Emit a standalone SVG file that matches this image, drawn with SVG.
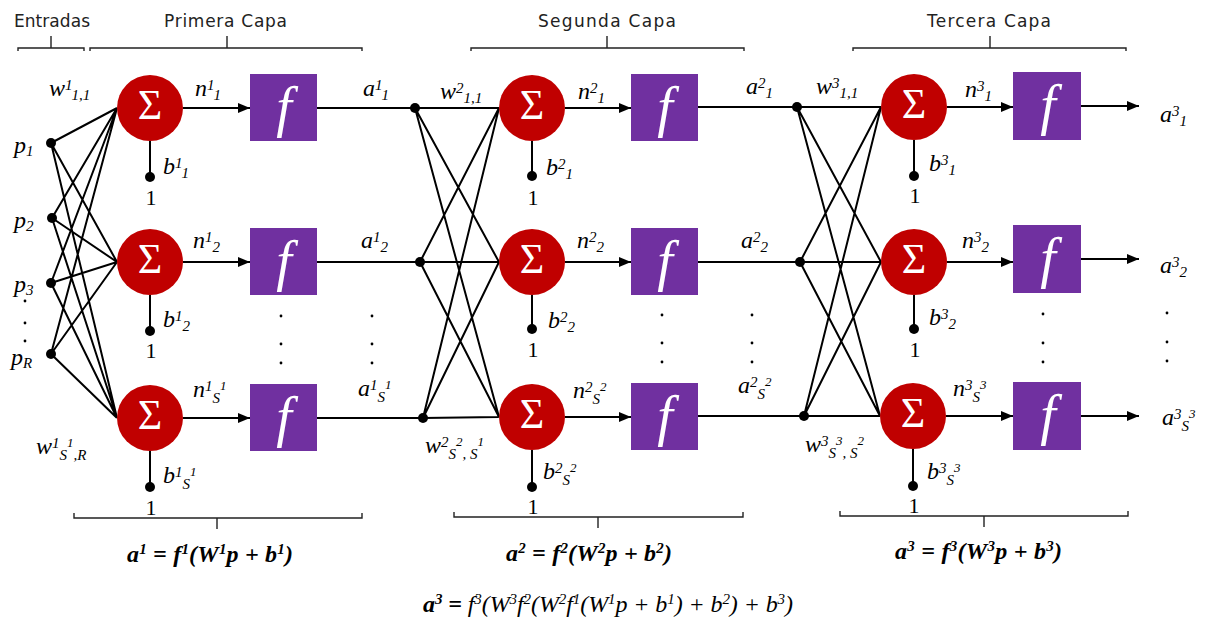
<svg xmlns="http://www.w3.org/2000/svg" width="1207" height="628" viewBox="0 0 1207 628">
<style>
.sum{fill:#C00000}
.fbox{fill:#7030A0}
.sig{font-family:"Liberation Serif","Times New Roman",serif;font-size:42px;fill:#fff;text-anchor:middle}
.ff{font-family:"Liberation Serif",serif;font-style:italic;font-size:56px;fill:#fff;text-anchor:middle}
.ln{stroke:#000;stroke-width:2;fill:none}
.br{stroke:#222;stroke-width:1.4;fill:none}
.lbl{font-family:"Liberation Serif",serif;font-style:italic;font-size:24px;fill:#000}
.s{font-size:15px}
.ss{font-size:13px}
.one{font-family:"Liberation Serif",serif;font-size:22px;fill:#000;text-anchor:middle}
.hd{font-family:"DejaVu Sans",sans-serif;font-size:17px;fill:#222}
.eq{font-family:"Liberation Serif",serif;font-style:italic;font-weight:bold;font-size:24px;fill:#000}
.eqr{font-family:"Liberation Serif",serif;font-style:italic;font-size:24px;fill:#000}
.sup{font-size:15px}
.dot{fill:#000}
</style>
<defs>
<marker id="ah" markerWidth="12" markerHeight="10" refX="12" refY="5" orient="auto" markerUnits="userSpaceOnUse">
<path d="M0,0 L12,5 L0,10 z" fill="#000"/>
</marker>
</defs>

<g id="headers">
<text class="hd" x="14" y="27" textLength="76">Entradas</text>
<text class="hd" x="164" y="27" textLength="123">Primera Capa</text>
<text class="hd" x="538" y="27" textLength="138">Segunda Capa</text>
<text class="hd" x="927" y="27" textLength="124">Tercera Capa</text>
<path class="br" d="M18,51 V48 H84 V51 M51,48 V36"/>
<path class="br" d="M90,51 V48 H362 V51 M227,48 V36"/>
<path class="br" d="M471,51 V48 H744 V51 M607,48 V36"/>
<path class="br" d="M853,51 V48 H1126 V51 M990,48 V36"/>
<path class="br" d="M74,513 V518 H362 V513 M217,518 V529"/>
<path class="br" d="M454,512 V517 H743 V512 M598,517 V528"/>
<path class="br" d="M840,511 V516 H1128 V511 M984,516 V527"/>
</g>

<g id="connectors">
<path class="ln" d="M51,143 L117,108 M51,143 L117,262 M51,143 L117,418
M52,218 L117,108 M52,218 L117,262 M52,218 L117,418
M51,283 L117,108 M51,283 L117,262 M51,283 L117,418
M51,354 L117,108 M51,354 L117,262 M51,354 L117,418"/>
<line class="ln" x1="183" y1="108" x2="250" y2="108" marker-end="url(#ah)"/>
<line class="ln" x1="183" y1="262" x2="250" y2="262" marker-end="url(#ah)"/>
<line class="ln" x1="183" y1="418" x2="250" y2="418" marker-end="url(#ah)"/>
<path class="ln" d="M150,141 V177 M150,295 V331 M150,451 V487"/>
<path class="ln" d="M532,141 V176 M532,295 V329 M532,450 V487"/>
<path class="ln" d="M914,140 V176 M914,295 V329 M913,449 V486"/>
<path class="ln" d="M317,108 H415 M317,262 H420 M317,418 H423"/>
<path class="ln" d="M415,108 L499,108 M415,108 L499,262 M415,108 L499,417
M420,262 L499,108 M420,262 L499,262 M420,262 L499,417
M423,418 L499,108 M423,418 L499,262 M423,418 L499,417"/>
<line class="ln" x1="565" y1="108" x2="631" y2="108" marker-end="url(#ah)"/>
<line class="ln" x1="565" y1="262" x2="631" y2="262" marker-end="url(#ah)"/>
<line class="ln" x1="565" y1="417" x2="631" y2="417" marker-end="url(#ah)"/>
<path class="ln" d="M698,107 H797 M698,262 H800 M698,416 H804"/>
<path class="ln" d="M797,107 L881,107 M797,107 L881,262 M797,107 L880,416
M800,262 L881,107 M800,262 L881,262 M800,262 L880,416
M804,416 L881,107 M804,416 L881,262 M804,416 L880,416"/>
<line class="ln" x1="947" y1="107" x2="1013" y2="107" marker-end="url(#ah)"/>
<line class="ln" x1="947" y1="262" x2="1013" y2="262" marker-end="url(#ah)"/>
<line class="ln" x1="946" y1="416" x2="1013" y2="416" marker-end="url(#ah)"/>
<line class="ln" x1="1081" y1="106" x2="1139" y2="106" marker-end="url(#ah)"/>
<line class="ln" x1="1081" y1="259" x2="1139" y2="259" marker-end="url(#ah)"/>
<line class="ln" x1="1081" y1="416" x2="1139" y2="416" marker-end="url(#ah)"/>
</g>

<g id="inputs">
<circle class="dot" cx="51" cy="143" r="5"/>
<circle class="dot" cx="52" cy="218" r="5"/>
<circle class="dot" cx="51" cy="283" r="5"/>
<circle class="dot" cx="51" cy="354" r="5"/>
<text class="lbl" x="14" y="153">p<tspan class="s" dy="3">1</tspan></text>
<text class="lbl" x="14" y="228">p<tspan class="s" dy="3">2</tspan></text>
<text class="lbl" x="14" y="292">p<tspan class="s" dy="3">3</tspan></text>
<text class="lbl" x="11" y="365">p<tspan class="s" dy="3">R</tspan></text>
<circle class="dot" cx="25" cy="301" r="1.4"/>
<circle class="dot" cx="25" cy="323" r="1.4"/>
<circle class="dot" cx="25" cy="341" r="1.4"/>
</g>

<g id="junctions">
<circle class="dot" cx="415" cy="108" r="5"/>
<circle class="dot" cx="420" cy="262" r="5"/>
<circle class="dot" cx="423" cy="418" r="5"/>
<circle class="dot" cx="797" cy="107" r="5"/>
<circle class="dot" cx="800" cy="262" r="5"/>
<circle class="dot" cx="804" cy="416" r="5"/>
</g>

<g id="layer1-neuron1">
<circle class="sum" cx="150" cy="108" r="33"/>
<text class="sig" x="150" y="119">Σ</text>
<circle class="dot" cx="150" cy="177" r="5"/>
<text class="one" x="151" y="205">1</text>
<text class="lbl" x="163" y="174">b<tspan class="s" dy="-6">1</tspan><tspan class="s" dy="10">1</tspan></text>
</g>
<g id="layer1-neuron2">
<circle class="sum" cx="150" cy="262" r="33"/>
<text class="sig" x="150" y="273">Σ</text>
<circle class="dot" cx="150" cy="331" r="5"/>
<text class="one" x="151" y="358">1</text>
<text class="lbl" x="163" y="327">b<tspan class="s" dy="-6">1</tspan><tspan class="s" dy="10">2</tspan></text>
</g>
<g id="layer1-neuron3">
<circle class="sum" cx="150" cy="418" r="33"/>
<text class="sig" x="150" y="429">Σ</text>
<circle class="dot" cx="150" cy="487" r="5"/>
<text class="one" x="151" y="515">1</text>
<text class="lbl" x="163" y="483">b<tspan class="s" dy="-6">1</tspan><tspan class="s" dy="12">S</tspan><tspan class="ss" dy="-13">1</tspan></text>
</g>
<g id="layer1-f1"><rect class="fbox" x="250" y="74" width="67" height="67"/><text class="ff" x="284" y="126">f</text></g>
<g id="layer1-f2"><rect class="fbox" x="250" y="228" width="67" height="67"/><text class="ff" x="284" y="280">f</text></g>
<g id="layer1-f3"><rect class="fbox" x="250" y="384" width="67" height="67"/><text class="ff" x="284" y="436">f</text></g>

<g id="layer2-neuron1">
<circle class="sum" cx="532" cy="108" r="33"/>
<text class="sig" x="532" y="119">Σ</text>
<circle class="dot" cx="532" cy="176" r="5"/>
<text class="one" x="533" y="205">1</text>
<text class="lbl" x="546" y="175">b<tspan class="s" dy="-6">2</tspan><tspan class="s" dy="10">1</tspan></text>
</g>
<g id="layer2-neuron2">
<circle class="sum" cx="532" cy="262" r="33"/>
<text class="sig" x="532" y="273">Σ</text>
<circle class="dot" cx="532" cy="329" r="5"/>
<text class="one" x="533" y="357">1</text>
<text class="lbl" x="548" y="328">b<tspan class="s" dy="-6">2</tspan><tspan class="s" dy="10">2</tspan></text>
</g>
<g id="layer2-neuron3">
<circle class="sum" cx="532" cy="417" r="33"/>
<text class="sig" x="532" y="428">Σ</text>
<circle class="dot" cx="532" cy="487" r="5"/>
<text class="one" x="533" y="514">1</text>
<text class="lbl" x="543" y="479">b<tspan class="s" dy="-6">2</tspan><tspan class="s" dy="12">S</tspan><tspan class="ss" dy="-13">2</tspan></text>
</g>
<g id="layer2-f1"><rect class="fbox" x="631" y="74" width="67" height="67"/><text class="ff" x="665" y="126">f</text></g>
<g id="layer2-f2"><rect class="fbox" x="631" y="228" width="67" height="67"/><text class="ff" x="665" y="280">f</text></g>
<g id="layer2-f3"><rect class="fbox" x="631" y="383" width="67" height="67"/><text class="ff" x="665" y="435">f</text></g>

<g id="layer3-neuron1">
<circle class="sum" cx="914" cy="107" r="33"/>
<text class="sig" x="914" y="118">Σ</text>
<circle class="dot" cx="914" cy="176" r="5"/>
<text class="one" x="915" y="203">1</text>
<text class="lbl" x="929" y="171">b<tspan class="s" dy="-6">3</tspan><tspan class="s" dy="10">1</tspan></text>
</g>
<g id="layer3-neuron2">
<circle class="sum" cx="914" cy="262" r="33"/>
<text class="sig" x="914" y="273">Σ</text>
<circle class="dot" cx="914" cy="329" r="5"/>
<text class="one" x="915" y="357">1</text>
<text class="lbl" x="929" y="325">b<tspan class="s" dy="-6">3</tspan><tspan class="s" dy="10">2</tspan></text>
</g>
<g id="layer3-neuron3">
<circle class="sum" cx="913" cy="416" r="33"/>
<text class="sig" x="913" y="427">Σ</text>
<circle class="dot" cx="913" cy="486" r="5"/>
<text class="one" x="914" y="513">1</text>
<text class="lbl" x="927" y="479">b<tspan class="s" dy="-6">3</tspan><tspan class="s" dy="12">S</tspan><tspan class="ss" dy="-13">3</tspan></text>
</g>
<g id="layer3-f1"><rect class="fbox" x="1013" y="72" width="68" height="68"/><text class="ff" x="1048" y="124">f</text></g>
<g id="layer3-f2"><rect class="fbox" x="1013" y="225" width="68" height="68"/><text class="ff" x="1048" y="277">f</text></g>
<g id="layer3-f3"><rect class="fbox" x="1013" y="382" width="68" height="68"/><text class="ff" x="1048" y="434">f</text></g>

<g id="edge-labels">
<text class="lbl" x="49" y="96">w<tspan class="s" dy="-6">1</tspan><tspan class="s" dy="10">1,1</tspan></text>
<text class="lbl" x="195" y="96">n<tspan class="s" dy="-6">1</tspan><tspan class="s" dy="10">1</tspan></text>
<text class="lbl" x="363" y="96">a<tspan class="s" dy="-6">1</tspan><tspan class="s" dy="10">1</tspan></text>
<text class="lbl" x="193" y="248">n<tspan class="s" dy="-6">1</tspan><tspan class="s" dy="10">2</tspan></text>
<text class="lbl" x="361" y="248">a<tspan class="s" dy="-6">1</tspan><tspan class="s" dy="10">2</tspan></text>
<text class="lbl" x="193" y="397">n<tspan class="s" dy="-6">1</tspan><tspan class="s" dy="12">S</tspan><tspan class="ss" dy="-13">1</tspan></text>
<text class="lbl" x="358" y="396">a<tspan class="s" dy="-6">1</tspan><tspan class="s" dy="12">S</tspan><tspan class="ss" dy="-13">1</tspan></text>
<text class="lbl" x="36" y="454">w<tspan class="s" dy="-6">1</tspan><tspan class="s" dy="12">S</tspan><tspan class="ss" dy="-13">1</tspan><tspan class="s" dy="13">,R</tspan></text>

<text class="lbl" x="440" y="99">w<tspan class="s" dy="-6">2</tspan><tspan class="s" dy="10">1,1</tspan></text>
<text class="lbl" x="578" y="99">n<tspan class="s" dy="-6">2</tspan><tspan class="s" dy="10">1</tspan></text>
<text class="lbl" x="746" y="94">a<tspan class="s" dy="-6">2</tspan><tspan class="s" dy="10">1</tspan></text>
<text class="lbl" x="577" y="248">n<tspan class="s" dy="-6">2</tspan><tspan class="s" dy="10">2</tspan></text>
<text class="lbl" x="741" y="248">a<tspan class="s" dy="-6">2</tspan><tspan class="s" dy="10">2</tspan></text>
<text class="lbl" x="573" y="398">n<tspan class="s" dy="-6">2</tspan><tspan class="s" dy="12">S</tspan><tspan class="ss" dy="-13">2</tspan></text>
<text class="lbl" x="738" y="393">a<tspan class="s" dy="-6">2</tspan><tspan class="s" dy="12">S</tspan><tspan class="ss" dy="-13">2</tspan></text>
<text class="lbl" x="425" y="453">w<tspan class="s" dy="-6">2</tspan><tspan class="s" dy="12">S</tspan><tspan class="ss" dy="-13">2</tspan><tspan class="s" dy="13">, S</tspan><tspan class="ss" dy="-13">1</tspan></text>

<text class="lbl" x="816" y="94">w<tspan class="s" dy="-6">3</tspan><tspan class="s" dy="10">1,1</tspan></text>
<text class="lbl" x="965" y="97">n<tspan class="s" dy="-6">3</tspan><tspan class="s" dy="10">1</tspan></text>
<text class="lbl" x="962" y="248">n<tspan class="s" dy="-6">3</tspan><tspan class="s" dy="10">2</tspan></text>
<text class="lbl" x="953" y="396">n<tspan class="s" dy="-6">3</tspan><tspan class="s" dy="12">S</tspan><tspan class="ss" dy="-13">3</tspan></text>
<text class="lbl" x="805" y="452">w<tspan class="s" dy="-6">3</tspan><tspan class="s" dy="12">S</tspan><tspan class="ss" dy="-13">3</tspan><tspan class="s" dy="13">, S</tspan><tspan class="ss" dy="-13">2</tspan></text>
<text class="lbl" x="1160" y="122">a<tspan class="s" dy="-6">3</tspan><tspan class="s" dy="10">1</tspan></text>
<text class="lbl" x="1160" y="273">a<tspan class="s" dy="-6">3</tspan><tspan class="s" dy="10">2</tspan></text>
<text class="lbl" x="1162" y="425">a<tspan class="s" dy="-6">3</tspan><tspan class="s" dy="12">S</tspan><tspan class="ss" dy="-13">3</tspan></text>
</g>

<g id="ellipses">
<circle class="dot" cx="281" cy="316" r="1.4"/><circle class="dot" cx="281" cy="344" r="1.4"/><circle class="dot" cx="281" cy="363" r="1.4"/>
<circle class="dot" cx="372" cy="316" r="1.4"/><circle class="dot" cx="372" cy="344" r="1.4"/><circle class="dot" cx="372" cy="363" r="1.4"/>
<circle class="dot" cx="662" cy="315" r="1.4"/><circle class="dot" cx="662" cy="343" r="1.4"/><circle class="dot" cx="662" cy="362" r="1.4"/>
<circle class="dot" cx="752" cy="315" r="1.4"/><circle class="dot" cx="752" cy="343" r="1.4"/><circle class="dot" cx="752" cy="362" r="1.4"/>
<circle class="dot" cx="1043" cy="314" r="1.4"/><circle class="dot" cx="1043" cy="343" r="1.4"/><circle class="dot" cx="1043" cy="362" r="1.4"/>
<circle class="dot" cx="1167" cy="313" r="1.4"/><circle class="dot" cx="1167" cy="342" r="1.4"/><circle class="dot" cx="1167" cy="361" r="1.4"/>
</g>

<g id="formulas">
<text class="eq" x="127" y="562" textLength="166">a<tspan class="sup" dy="-8">1</tspan><tspan dy="8"> = f</tspan><tspan class="sup" dy="-8">1</tspan><tspan dy="8">(W</tspan><tspan class="sup" dy="-8">1</tspan><tspan dy="8">p + b</tspan><tspan class="sup" dy="-8">1</tspan><tspan dy="8">)</tspan></text>
<text class="eq" x="506" y="561" textLength="166">a<tspan class="sup" dy="-8">2</tspan><tspan dy="8"> = f</tspan><tspan class="sup" dy="-8">2</tspan><tspan dy="8">(W</tspan><tspan class="sup" dy="-8">2</tspan><tspan dy="8">p + b</tspan><tspan class="sup" dy="-8">2</tspan><tspan dy="8">)</tspan></text>
<text class="eq" x="895" y="559" textLength="167">a<tspan class="sup" dy="-8">3</tspan><tspan dy="8"> = f</tspan><tspan class="sup" dy="-8">3</tspan><tspan dy="8">(W</tspan><tspan class="sup" dy="-8">3</tspan><tspan dy="8">p + b</tspan><tspan class="sup" dy="-8">3</tspan><tspan dy="8">)</tspan></text>
<text class="eqr" x="423" y="612" textLength="370"><tspan font-weight="bold">a</tspan><tspan class="sup" font-weight="bold" dy="-8">3</tspan><tspan font-weight="bold" dy="8"> = </tspan>f<tspan class="sup" dy="-8">3</tspan><tspan dy="8">(W</tspan><tspan class="sup" dy="-8">3</tspan><tspan dy="8">f</tspan><tspan class="sup" dy="-8">2</tspan><tspan dy="8">(W</tspan><tspan class="sup" dy="-8">2</tspan><tspan dy="8">f</tspan><tspan class="sup" dy="-8">1</tspan><tspan dy="8">(W</tspan><tspan class="sup" dy="-8">1</tspan><tspan dy="8">p + b</tspan><tspan class="sup" dy="-8">1</tspan><tspan dy="8">) + b</tspan><tspan class="sup" dy="-8">2</tspan><tspan dy="8">) + b</tspan><tspan class="sup" dy="-8">3</tspan><tspan dy="8">)</tspan></text>
</g>
</svg>
